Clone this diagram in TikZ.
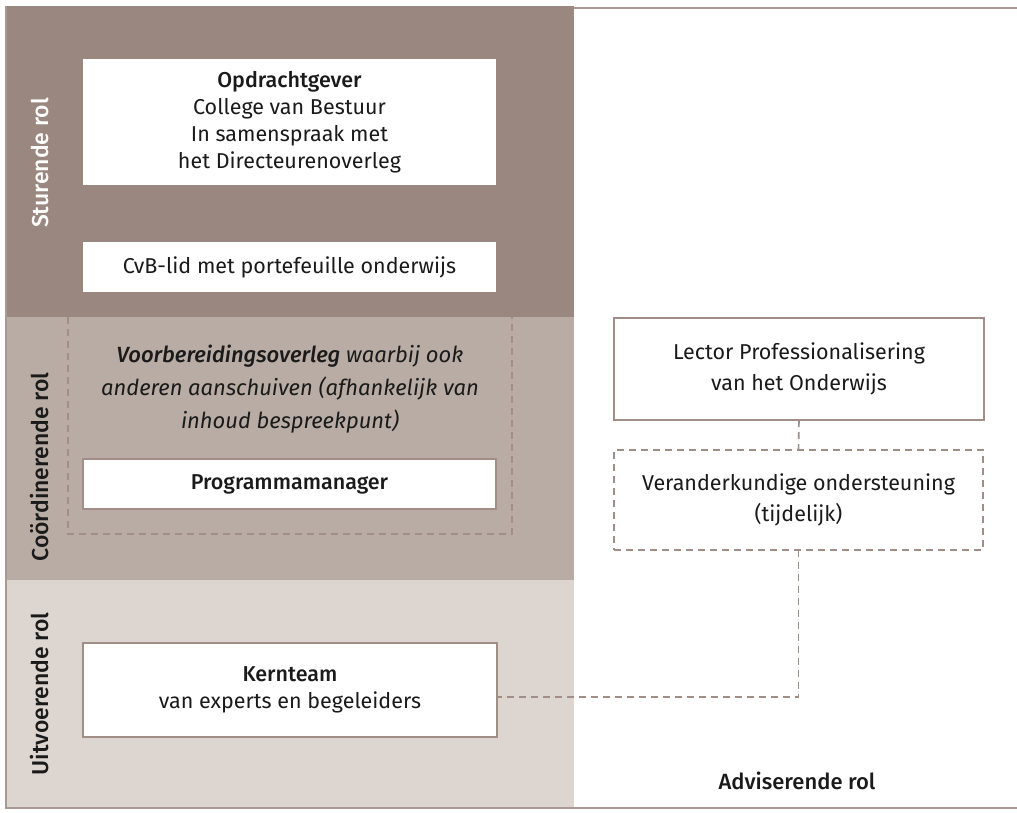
\documentclass[tikz,border=0pt]{standalone}
\usepackage{fontspec}
\setmainfont{Fira Sans}[BoldFont={Fira Sans Medium}, BoldItalicFont={Fira Sans Medium Italic}]
\definecolor{bandA}{HTML}{9A8880}
\definecolor{bandB}{HTML}{B8ACA4}
\definecolor{bandC}{HTML}{DCD5D0}
\definecolor{edgec}{HTML}{A08E87}
\definecolor{framec}{HTML}{A89A93}
\definecolor{ink}{HTML}{1A1A1A}
\tikzset{
  box/.style={draw=edgec, line width=1.6pt, fill=white, inner sep=0pt, outer sep=0pt, align=center, text=ink},
  topbox/.style={box, draw=white},
  dbox/.style={box, dash pattern=on 7pt off 5pt},
  dline/.style={draw=edgec, line width=1.6pt, dash pattern=on 7pt off 5pt},
  rolelab/.style={rotate=90, font=\fontsize{23}{27}\selectfont\bfseries, text=ink},
  txt/.style={font=\fontsize{21.5}{27}\selectfont},
  txtw/.style={font=\fontsize{21.5}{31}\selectfont},
}
\begin{document}
\begin{tikzpicture}[x=1pt,y=-1pt]
\useasboundingbox (0,0) rectangle (1017,812);
% bands
\fill[bandA] (6,6) rectangle (574,317);
\fill[bandB] (6,317) rectangle (574,580);
\fill[bandC] (6,580) rectangle (574,808);
% frame
\draw[framec, line width=1.6pt] (574,8) -- (1017,8);
\draw[framec, line width=1.6pt] (6,6) -- (6,808) -- (1017,808);
% role labels
\node[rolelab, text=white] (sturend) at (40,163) {Sturende rol};
\node[rolelab] (coord) at (40,467) {Coördinerende rol};
\node[rolelab] (uitv) at (40,694) {Uitvoerende rol};
\node[font=\fontsize{22}{26}\selectfont\bfseries, text=ink] (advis) at (797,781) {Adviserende rol};
% boxes
\node[topbox, txt, minimum width=411pt, minimum height=124pt] (opd) at (289.5,122)
  {{\bfseries Opdrachtgever}\\College van Bestuur\\In samenspraak met\\het Directeurenoverleg};
\node[topbox, txt, minimum width=411pt, minimum height=48pt] (cvb) at (289.5,267)
  {CvB-lid met portefeuille onderwijs};
% dashed overleg frame
\draw[dline] (68,317) -- (68,534) -- (512,534) -- (512,317);
\node[font=\fontsize{22}{33}\selectfont\itshape, text=ink, align=center] (voor) at (290,389)
  {{\bfseries Voorbereidingsoverleg} waarbij ook\\anderen aanschuiven (afhankelijk van\\inhoud bespreekpunt)};
\node[box, txt, minimum width=413pt, minimum height=50pt] (pm) at (289.5,484)
  {\bfseries Programmamanager};
\node[box, txt, minimum width=414pt, minimum height=94pt] (kern) at (290,690)
  {{\bfseries Kernteam}\\van experts en begeleiders};
\node[box, txtw, minimum width=370pt, minimum height=102pt] (lector) at (799,369)
  {Lector Professionalisering\\van het Onderwijs};
\node[dbox, txtw, minimum width=369pt, minimum height=100pt] (verander) at (798.5,500)
  {Veranderkundige ondersteuning\\(tijdelijk)};
% connectors
\draw[dline] (lector.south) -- (verander.north);
\draw[dline] (verander.south) |- ([yshift=-7pt]kern.east);
\end{tikzpicture}
\end{document}
